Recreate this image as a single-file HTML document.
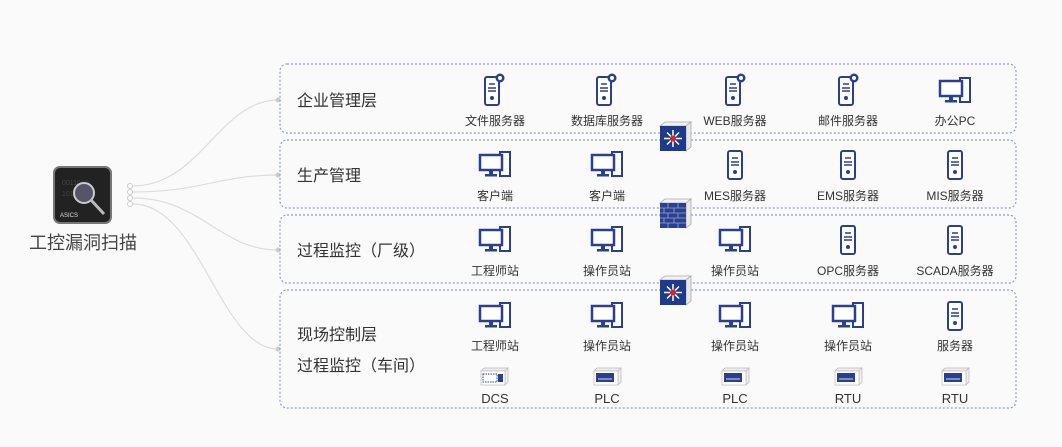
<!DOCTYPE html>
<html><head><meta charset="utf-8"><style>
html,body{margin:0;padding:0;background:#fafafa;}
svg{display:block;}
text{font-family:"Liberation Sans","Noto Sans CJK SC",sans-serif;fill:#333;}
</style></head><body>
<svg width="1062" height="447" viewBox="0 0 1062 447" xmlns="http://www.w3.org/2000/svg">
<defs>
<g id="srv"><rect x="-7" y="-14" width="14" height="28" rx="2" fill="#fff" stroke="#2b3f8f" stroke-width="2"/><line x1="-3" y1="-7" x2="3" y2="-7" stroke="#2b3f8f" stroke-width="1.5"/><line x1="-4" y1="-3" x2="4" y2="-3" stroke="#2b3f8f" stroke-width="1.5"/><line x1="-4" y1="0" x2="4" y2="0" stroke="#2b3f8f" stroke-width="1.5"/><circle cx="0" cy="7" r="2" fill="#2b3f8f"/></g>
<g id="srvb"><use href="#srv"/><circle cx="8" cy="-13" r="4.5" fill="#2b3f8f"/><circle cx="8" cy="-13" r="2" fill="#fff"/></g>
<g id="pc"><rect x="5" y="-13" width="10" height="24" fill="#fff" stroke="#2b3f8f" stroke-width="2"/><rect x="-15" y="-10" width="22" height="15" fill="#fff" stroke="#2b3f8f" stroke-width="2.5"/><rect x="-6" y="5" width="4" height="4" fill="#2b3f8f"/><rect x="-10" y="9" width="12" height="2.5" fill="#2b3f8f"/></g>
<g id="plc"><path d="M-13,-6 l3,-3 h24 l-3,3z" fill="#eee" stroke="#bbb" stroke-width=".7"/><path d="M11,-6 l3,-3 v14 l-3,3z" fill="#eee" stroke="#bbb" stroke-width=".7"/><rect x="-13" y="-6" width="24" height="14" fill="#fff" stroke="#bbb" stroke-width=".7"/><rect x="-11" y="-4" width="18" height="9" fill="#2b3f8f"/><line x1="-9" y1="2" x2="5" y2="2" stroke="#fff" stroke-width=".8"/></g>
<g id="dcs"><path d="M-13,-6 l3,-3 h24 l-3,3z" fill="#eee" stroke="#bbb" stroke-width=".7"/><path d="M11,-6 l3,-3 v14 l-3,3z" fill="#eee" stroke="#bbb" stroke-width=".7"/><rect x="-13" y="-6" width="24" height="14" fill="#fff" stroke="#bbb" stroke-width=".7"/><rect x="-11" y="-3" width="14" height="8" fill="#fff" stroke="#2b3f8f" stroke-dasharray="1.5 1"/><rect x="4" y="-3" width="5" height="8" fill="#2b3f8f"/></g>
<g id="sw"><path d="M0,0 l5,-4 h26 l-5,4z" fill="#f2f2f2" stroke="#aaa" stroke-width=".8"/><path d="M26,0 l5,-4 v25 l-5,4z" fill="#e8e8e8" stroke="#aaa" stroke-width=".8"/><rect x="0" y="0" width="26" height="25" fill="#1f3a8a"/><g stroke="#fff" stroke-width="1.5"><line x1="13" y1="4" x2="13" y2="21"/><line x1="4" y1="12.5" x2="22" y2="12.5"/><line x1="7" y1="6.5" x2="19" y2="18.5"/><line x1="19" y1="6.5" x2="7" y2="18.5"/></g><circle cx="13" cy="12.5" r="3" fill="#d22"/></g>
<g id="fw"><path d="M0,0 l5,-4 h26 l-5,4z" fill="#f2f2f2" stroke="#aaa" stroke-width=".8"/><path d="M26,0 l5,-4 v25 l-5,4z" fill="#e8e8e8" stroke="#aaa" stroke-width=".8"/><rect x="0" y="0" width="26" height="25" fill="#2a3f95"/><g stroke="#9ab" stroke-width=".8"><line x1="0" y1="5" x2="26" y2="5"/><line x1="0" y1="10" x2="26" y2="10"/><line x1="0" y1="15" x2="26" y2="15"/><line x1="0" y1="20" x2="26" y2="20"/><line x1="8" y1="0" x2="8" y2="5"/><line x1="18" y1="0" x2="18" y2="5"/><line x1="4" y1="5" x2="4" y2="10"/><line x1="14" y1="5" x2="14" y2="10"/><line x1="8" y1="10" x2="8" y2="15"/><line x1="18" y1="10" x2="18" y2="15"/><line x1="4" y1="15" x2="4" y2="20"/><line x1="14" y1="15" x2="14" y2="20"/><line x1="8" y1="20" x2="8" y2="25"/><line x1="18" y1="20" x2="18" y2="25"/></g></g>
</defs>
<rect width="1062" height="447" fill="#fafafa"/>
<!-- connectors -->
<g fill="none" stroke="#ddd" stroke-width="1.2">
<path d="M133,186 C200,186 220,100 278,100"/>
<path d="M133,192 C200,192 220,175 278,175"/>
<path d="M133,198 C200,198 220,250 278,250"/>
<path d="M133,204 C200,204 220,349 278,349"/>
</g>
<g fill="#fff" stroke="#ccc"><circle cx="130" cy="186" r="2.5"/><circle cx="130" cy="192" r="2.5"/><circle cx="130" cy="198" r="2.5"/><circle cx="130" cy="204" r="2.5"/></g>
<g fill="#ccc"><circle cx="278" cy="100" r="2.5"/><circle cx="278" cy="175" r="2.5"/><circle cx="278" cy="250" r="2.5"/><circle cx="278" cy="349" r="2.5"/></g>
<!-- left icon -->
<rect x="54" y="167" width="57" height="56" rx="6" fill="#222" stroke="#777" stroke-width="2"/>
<text x="62" y="185" font-size="7" style="fill:#444">0011010</text>
<text x="62" y="196" font-size="7" style="fill:#444">1010011</text>
<circle cx="84" cy="193" r="10" fill="#556" stroke="#ccc" stroke-width="2"/>
<line x1="91" y1="200" x2="104" y2="214" stroke="#bbb" stroke-width="3"/>
<text x="60" y="217" font-size="6" style="fill:#ddd">ASICS</text>
<text x="83" y="249" font-size="18" text-anchor="middle" style="fill:#444">工控漏洞扫描</text>
<!-- boxes -->
<g fill="none" stroke="#8f9bd0" stroke-width="1.2" stroke-dasharray="2 2">
<rect x="280" y="64" width="736" height="69" rx="7"/>
<rect x="280" y="140" width="736" height="68" rx="7"/>
<rect x="280" y="215" width="736" height="68" rx="7"/>
<rect x="280" y="290" width="736" height="118" rx="7"/>
</g>
<g font-size="16" style="fill:#333">
<text x="297" y="106">企业管理层</text>
<text x="297" y="181">生产管理</text>
<text x="297" y="256">过程监控（厂级）</text>
<text x="297" y="340">现场控制层</text>
<text x="297" y="371">过程监控（车间）</text>
</g>
<!-- row1 -->
<use href="#srvb" x="492" y="91"/><use href="#srvb" x="604" y="91"/><use href="#srvb" x="733" y="91"/><use href="#srvb" x="846" y="91"/><use href="#pc" x="955" y="91"/>
<!-- row2 -->
<use href="#pc" x="495" y="165"/><use href="#pc" x="607" y="165"/><use href="#srv" x="735" y="165"/><use href="#srv" x="848" y="165"/><use href="#srv" x="955" y="165"/>
<!-- row3 -->
<use href="#pc" x="495" y="240"/><use href="#pc" x="607" y="240"/><use href="#pc" x="735" y="240"/><use href="#srv" x="848" y="240"/><use href="#srv" x="955" y="240"/>
<!-- row4 -->
<use href="#pc" x="495" y="316"/><use href="#pc" x="607" y="316"/><use href="#pc" x="735" y="316"/><use href="#pc" x="848" y="316"/><use href="#srv" x="955" y="316"/>
<use href="#dcs" x="494" y="377"/><use href="#plc" x="607" y="377"/><use href="#plc" x="735" y="377"/><use href="#plc" x="848" y="377"/><use href="#plc" x="955" y="377"/>
<g font-size="12" text-anchor="middle" style="fill:#333">
<text x="495" y="125">文件服务器</text><text x="607" y="125">数据库服务器</text><text x="735" y="125">WEB服务器</text><text x="848" y="125">邮件服务器</text><text x="955" y="125">办公PC</text>
<text x="495" y="200">客户端</text><text x="607" y="200">客户端</text><text x="735" y="200">MES服务器</text><text x="848" y="200">EMS服务器</text><text x="955" y="200">MIS服务器</text>
<text x="495" y="275">工程师站</text><text x="607" y="275">操作员站</text><text x="735" y="275">操作员站</text><text x="848" y="275">OPC服务器</text><text x="955" y="275">SCADA服务器</text>
<text x="495" y="350">工程师站</text><text x="607" y="350">操作员站</text><text x="735" y="350">操作员站</text><text x="848" y="350">操作员站</text><text x="955" y="350">服务器</text>
<text x="495" y="403" font-size="13">DCS</text><text x="607" y="403" font-size="13">PLC</text><text x="735" y="403" font-size="13">PLC</text><text x="848" y="403" font-size="13">RTU</text><text x="955" y="403" font-size="13">RTU</text>
</g>
<use href="#sw" x="660" y="126"/>
<use href="#fw" x="660" y="203"/>
<use href="#sw" x="660" y="280"/>
</svg>
</body></html>
